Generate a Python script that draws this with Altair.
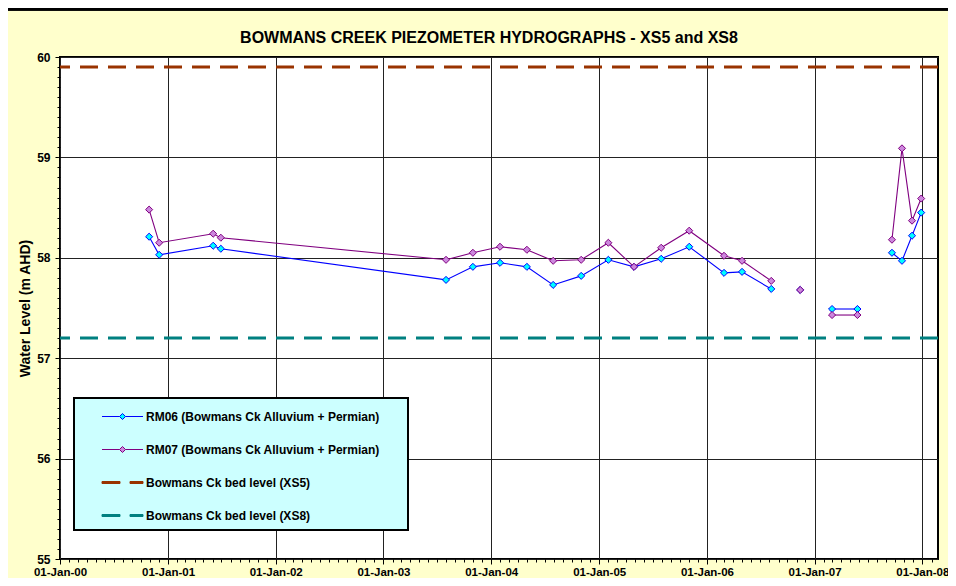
import altair as alt
import pandas as pd

# ---- data ----
dates = ["2000-10-29", "2000-12-02", "2001-06-03", "2001-06-29", "2003-08-01",
         "2003-10-31", "2004-01-31", "2004-05-01", "2004-07-29", "2004-11-01",
         "2005-02-01", "2005-04-29", "2005-07-30", "2005-11-02", "2006-02-28",
         "2006-04-30", "2006-08-07", "2006-11-13", "2007-03-01", "2007-05-26",
         "2007-09-20", "2007-10-24", "2007-11-27", "2007-12-28"]
rm06_level = [58.21, 58.03, 58.12, 58.09, 57.78, 57.91, 57.95, 57.91, 57.73, 57.82,
              57.98, 57.91, 57.99, 58.11, 57.85, 57.86, 57.69, 57.68, 57.49, 57.49,
              58.05, 57.97, 58.22, 58.45]
rm07_level = [58.48, 58.15, 58.24, 58.20, 57.98, 58.05, 58.11, 58.08, 57.97, 57.98,
              58.15, 57.91, 58.10, 58.27, 58.02, 57.97, 57.77, 57.68, 57.43, 57.43,
              58.18, 59.09, 58.37, 58.59]
segment = [1] * 17 + [2] + [3, 3] + [4, 4, 4, 4]

series_names = ["RM06 (Bowmans Ck Alluvium + Permian)",
                "RM07 (Bowmans Ck Alluvium + Permian)",
                "Bowmans Ck bed level (XS5)",
                "Bowmans Ck bed level (XS8)"]
bed_levels = [59.90, 57.20]
year_ticks = [2000, 2001, 2002, 2003, 2004, 2005, 2006, 2007, 2008]
y_ticks = [55, 56, 57, 58, 59, 60]

stroke_colors = ["#0000FF", "#800080", "#993300", "#008080"]
fill_colors = ["#00FFFF", "#CC88DD", "#993300", "#008080"]
legend_paths = [
    "M-2.05,0H-0.3M0.3,0H2.05M0,-0.3L0.3,0L0,0.3L-0.3,0Z",
    "M-2.05,0H-0.3M0.3,0H2.05M0,-0.3L0.3,0L0,0.3L-0.3,0Z",
    "M-2.05,-0.1H-0.25V0.1H-2.05ZM0.75,-0.1H2.05V0.1H0.75Z",
    "M-2.05,-0.1H-0.25V0.1H-2.05ZM0.75,-0.1H2.05V0.1H0.75Z",
]

obs = pd.DataFrame({
    "date": dates + dates,
    "level": rm06_level + rm07_level,
    "series": [series_names[0]] * len(dates) + [series_names[1]] * len(dates),
    "segment": segment + segment,
})
bed = pd.DataFrame({"series": series_names[2:], "level": bed_levels})
legend_df = pd.DataFrame({"series": series_names})

FONT = "Liberation Sans"

x_scale = alt.Scale(domain=[alt.DateTime(year=2000, month=1, date=1),
                            alt.DateTime(year=2008, month=2, date=23)])
y_scale = alt.Scale(domain=[55, 60], nice=False, zero=False)
stroke_scale = alt.Scale(domain=series_names, range=stroke_colors)
fill_scale = alt.Scale(domain=series_names, range=fill_colors)
shape_scale = alt.Scale(domain=series_names, range=legend_paths)

x_main = alt.Axis(values=[alt.DateTime(year=y, month=1, date=1) for y in year_ticks],
                  format="%d-%b-%y", title=None, grid=True, gridColor="#222",
                  gridWidth=1, tickSize=5, domain=False, labelFlush=False,
                  labelOverlap=False, labelPadding=2, orient="bottom",
                  labelFontSize=11.5)
month_vals = [alt.DateTime(year=y, month=m, date=1)
              for y in range(2000, 2009) for m in range(1, 13)
              if (y, m) <= (2008, 2)]
x_minor = alt.Axis(values=month_vals, labels=False, grid=False, domain=False,
                   tickSize=3, title=None, orient="bottom")
y_main = alt.Axis(values=y_ticks, grid=True, gridColor="#222", gridWidth=1,
                  tickSize=5, labelPadding=5, domain=False, orient="left",
                  title="Water Level (m AHD)", titlePadding=4)
y_minor = alt.Axis(values=[55 + i / 10 for i in range(51)], labels=False,
                   grid=False, domain=False, tickSize=3, title=None, orient="left")

legend_def = alt.Legend(
    orient="none", legendX=14, legendY=341, direction="vertical", columns=1,
    title=None, fillColor="#CCFFFF", strokeColor="black", padding=8,
    rowPadding=16, symbolSize=400, symbolStrokeWidth=1, symbolOffset=30,
    symbolFillColor="white", symbolStrokeColor="black",
    labelOffset=13, labelLimit=400, labelFont=FONT, labelFontSize=12,
    labelFontWeight="bold", labelColor="black",
    labelExpr="datum.label + '\u00a0\u00a0\u00a0\u00a0\u00a0\u00a0\u200b'",
)

carrier = alt.Chart(legend_df).mark_point(filled=True, opacity=1).encode(
    stroke=alt.Stroke("series:N", scale=stroke_scale, legend=legend_def),
    fill=alt.Fill("series:N", scale=fill_scale, legend=legend_def),
    shape=alt.Shape("series:N", scale=shape_scale, legend=legend_def),
).transform_filter("false")

frame_top = alt.Chart(legend_df).mark_rule(color="black", strokeWidth=3).encode(
    x=alt.value(-52), x2=alt.value(888), y=alt.value(-48)
)

rules = alt.Chart(bed).mark_rule(strokeWidth=3, strokeDash=[18, 10]).encode(
    y=alt.Y("level:Q", scale=y_scale, axis=None),
    stroke=alt.Stroke("series:N", scale=stroke_scale),
)

lines = alt.Chart(obs).mark_line(strokeWidth=1.1).encode(
    x=alt.X("date:T", scale=x_scale, axis=x_main),
    y=alt.Y("level:Q", scale=y_scale, axis=y_main),
    stroke=alt.Stroke("series:N", scale=stroke_scale),
    detail="segment:N",
)

points = alt.Chart(obs).mark_point(shape="diamond", filled=True, size=50,
                                   strokeWidth=1, opacity=1).encode(
    x=alt.X("date:T", scale=x_scale, axis=x_minor),
    y=alt.Y("level:Q", scale=y_scale, axis=y_minor),
    stroke=alt.Stroke("series:N", scale=stroke_scale),
    fill=alt.Fill("series:N", scale=fill_scale),
)

chart = alt.layer(carrier, rules, lines, points, frame_top).resolve_axis(
    x="independent", y="independent"
).properties(
    width=878, height=502,
    padding={"left": 52, "top": 49, "right": 10, "bottom": 19},
    autosize=alt.AutoSizeParams(type="none"),
    background="#FFFFCC",
    title=alt.TitleParams(
        text="BOWMANS CREEK PIEZOMETER HYDROGRAPHS - XS5 and XS8",
        font=FONT, fontSize=16, fontWeight="bold", color="black",
        anchor="middle", frame="group", offset=16, baseline="alphabetic",
        dx=-10, dy=67,
    ),
).configure_view(
    stroke="black", strokeWidth=2, fill="white"
).configure_axis(
    labelFont=FONT, labelFontSize=12, labelFontWeight="bold", labelColor="black",
    titleFont=FONT, titleFontSize=14, titleFontWeight="bold", titleColor="black",
    tickColor="black", tickWidth=1,
).configure_legend(
    strokeWidth=2
)

chart.save("out.html", embed_options={"renderer": "svg", "actions": False})
